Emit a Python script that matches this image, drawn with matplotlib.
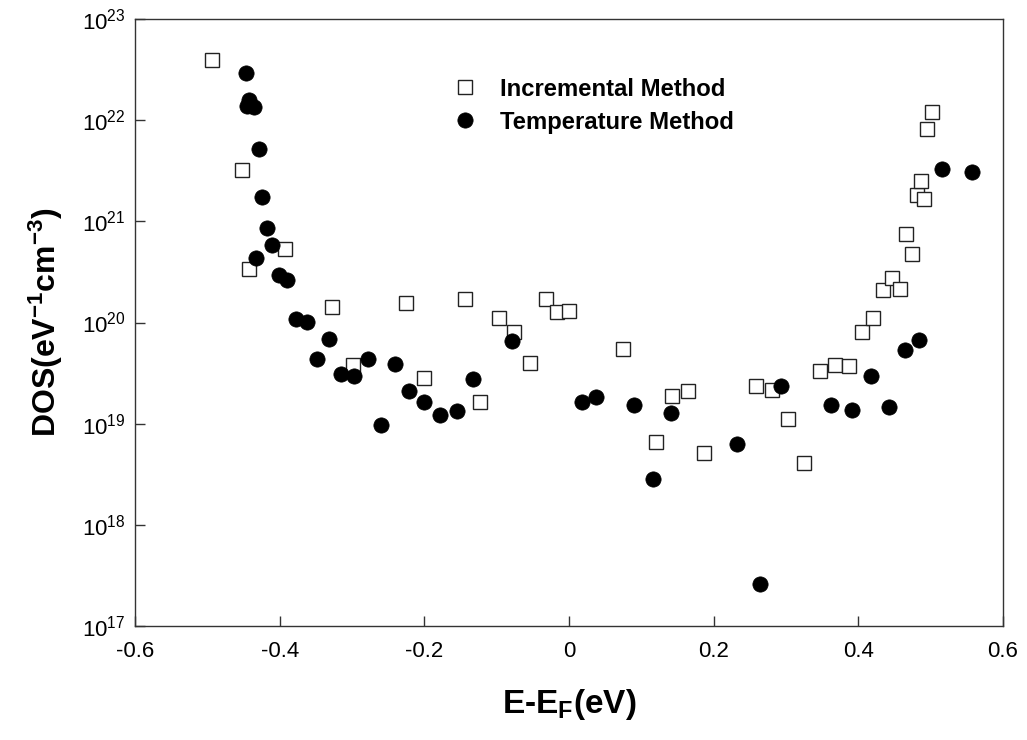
import numpy as np
import matplotlib
matplotlib.use('Agg')
import matplotlib.pyplot as plt
from matplotlib.ticker import LogLocator, NullLocator, FixedLocator

plt.rcParams['font.family'] = ['Liberation Sans', 'DejaVu Sans']
plt.rcParams['mathtext.fontset'] = 'custom'
plt.rcParams['mathtext.rm'] = 'Liberation Sans'
plt.rcParams['mathtext.it'] = 'Liberation Sans:italic'
plt.rcParams['mathtext.bf'] = 'Liberation Sans:bold'

# Incremental method (open squares)
inc_E = [-0.494, -0.452, -0.442, -0.393, -0.328, -0.299, -0.225, -0.200,
         -0.144, -0.123, -0.097, -0.076, -0.054, -0.032, -0.017, 0.000,
         0.075, 0.120, 0.142, 0.165, 0.187, 0.259, 0.281, 0.303, 0.325,
         0.347, 0.368, 0.387, 0.405, 0.420, 0.434, 0.447, 0.458, 0.466,
         0.474, 0.481, 0.487, 0.491, 0.495, 0.502]
inc_dos = [3.94e22, 3.22e21, 3.39e20, 5.34e20, 1.43e20, 3.81e19, 1.56e20, 2.84e19,
           1.71e20, 1.64e19, 1.11e20, 8.07e19, 3.99e19, 1.71e20, 1.27e20, 1.30e20,
           5.48e19, 6.61e18, 1.88e19, 2.11e19, 5.14e18, 2.36e19, 2.16e19, 1.11e19, 4.10e18,
           3.33e19, 3.81e19, 3.72e19, 8.07e19, 1.11e20, 2.10e20, 2.76e20, 2.15e20, 7.50e20,
           4.76e20, 1.82e21, 2.51e21, 1.66e21, 8.19e21, 1.21e22]

# Temperature method (filled circles)
tmp_E = [-0.447, -0.442, -0.445, -0.435, -0.429, -0.424, -0.418, -0.411,
         -0.433, -0.401, -0.390, -0.377, -0.362, -0.332, -0.348, -0.315,
         -0.297, -0.278, -0.241, -0.221, -0.200, -0.178, -0.155, -0.260,
         -0.133, -0.079, 0.018, 0.037, 0.090, 0.116, 0.141, 0.232, 0.264,
         0.293, 0.362, 0.391, 0.442, 0.418, 0.465, 0.484, 0.516, 0.557]
tmp_dos = [2.93e22, 1.58e22, 1.38e22, 1.35e22, 5.19e21, 1.74e21, 8.61e20, 5.85e20,
           4.35e20, 2.95e20, 2.64e20, 1.09e20, 1.01e20, 6.89e19, 4.37e19, 3.10e19,
           2.97e19, 4.37e19, 3.90e19, 2.11e19, 1.64e19, 1.22e19, 1.34e19, 9.73e18,
           2.77e19, 6.58e19, 1.64e19, 1.84e19, 1.53e19, 2.85e18, 1.28e19, 6.31e18, 2.61e17,
           2.36e19, 1.53e19, 1.37e19, 1.47e19, 2.97e19, 5.36e19, 6.73e19, 3.30e21, 3.08e21]

xticks = [-0.6, -0.4, -0.2, 0, 0.2, 0.4, 0.6]
xticklabels = ['-0.6', '-0.4', '-0.2', '0', '0.2', '0.4', '0.6']

fig = plt.figure(figsize=(10.27, 7.40), dpi=100)
ax = fig.add_axes([0.1315, 0.154, 0.845, 0.8203])

ax.plot(inc_E, inc_dos, 's', ms=9.5, mfc='white', mec='#222222', mew=1.0,
        label='Incremental Method', zorder=3)
ax.plot(tmp_E, tmp_dos, 'o', ms=11, mfc='black', mec='black', mew=0.5,
        label='Temperature Method', zorder=4)

ax.set_yscale('log')
ax.set_xlim(-0.6, 0.6)
ax.set_ylim(1e17, 1e23)
ax.xaxis.set_major_locator(FixedLocator(xticks))
ax.set_xticklabels(xticklabels)
ax.yaxis.set_major_locator(LogLocator(base=10, numticks=10))
ax.yaxis.set_minor_locator(NullLocator())

ax.tick_params(axis='both', which='major', direction='in', length=7, width=1,
               labelsize=16, top=False, right=False, color='#333333')
ax.tick_params(axis='x', pad=11)
ax.tick_params(axis='y', pad=7)
for s in ax.spines.values():
    s.set_color('#333333')
    s.set_linewidth(1.0)

ax.set_xlabel(r'E-E$_\mathbf{F}$(eV)', fontsize=24, fontweight='bold', labelpad=18)
ax.set_ylabel(r'DOS(eV$^\mathbf{-1}$cm$^\mathbf{-3}$)', fontsize=23, fontweight='bold', labelpad=12)

ax.legend(loc='center left', bbox_to_anchor=(0.366, 0.857), frameon=False,
          prop={'weight': 'bold', 'size': 17.2}, handlelength=1.0, handletextpad=1.0,
          labelspacing=0.42, borderpad=0, borderaxespad=0)

fig.savefig('out.png', dpi=100)
